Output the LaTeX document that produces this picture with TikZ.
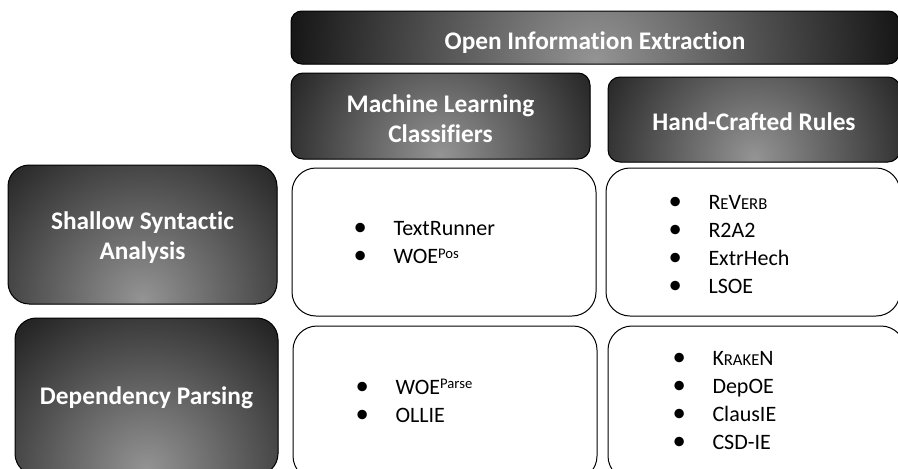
\documentclass[tikz,border=0pt]{standalone}
\usepackage{fontspec}
\setmainfont{Carlito}[Ligatures=NoCommon]
\newcommand{\fakesc}[1]{{\fontsize{12.5}{21}\selectfont #1}}
\newcommand{\supx}[1]{\raisebox{4pt}{\fontsize{11}{11}\selectfont #1}}
\newcommand{\itm}{\makebox[30pt][l]{\fontsize{20}{21}\selectfont\textbullet}}
\tikzset{every picture/.style={line width=0.75pt}}
\tikzset{
  darkbox/.style={draw=black, fill=black, inner sep=0pt,
    path picture={\shade[inner color=black!42, outer color=black] ([yshift=3pt]path picture bounding box.south) circle (#1);}},
  darkbox/.default=200pt,
  headtext/.style={text=white, align=center, inner sep=0pt, font=\fontsize{19}{22.5}\selectfont\bfseries},
  listbox/.style={draw=black, rounded corners=18pt, fill=white, inner sep=0pt},
  items/.style={anchor=west, align=left, inner sep=0pt, font=\fontsize{16.5}{21}\selectfont}
}

\begin{document}
\begin{tikzpicture}[x=0.75pt,y=0.75pt,yscale=-1,xscale=1]
        \useasboundingbox (0,0) rectangle (898,468);
        \clip (0,0) rectangle (898,468);

        %Shape: Top bar
        \node[darkbox=270pt, rounded corners=8pt, minimum width=456pt, minimum height=39.75pt] (oie) at (595,37.5) {};
        %Shape: Column headers
        \node[darkbox=170pt, rounded corners=9pt, minimum width=224.25pt, minimum height=64.5pt] (mlc) at (440.5,116) {};
        \node[darkbox=170pt, rounded corners=9pt, minimum width=219pt, minimum height=63.75pt] (hcr) at (754,119.5) {};
        %Shape: Row headers
        \node[darkbox=190pt, rounded corners=16pt, minimum width=201.75pt, minimum height=104.25pt] (ssa) at (142.5,234.5) {};
        \node[darkbox=190pt, rounded corners=16pt, minimum width=197.25pt, minimum height=117.75pt] (dep) at (146.5,396.5) {};

        % Text Node
        \node[headtext] (oie-t) at ([yshift=3.5pt]oie.center) {Open Information Extraction};
        % Text Node
        \node[headtext] (mlc-t) at ([yshift=2pt]mlc.center) {Machine Learning\\Classifiers};
        % Text Node
        \node[headtext] (hcr-t) at ([yshift=2pt]hcr.center) {Hand-Crafted Rules};
        % Text Node
        \node[headtext] (ssa-t) at ([yshift=2.5pt]ssa.center) {Shallow Syntactic\\Analysis};
        % Text Node
        \node[headtext] (dep-t) at ([yshift=1pt]dep.center) {Dependency Parsing};

        %Shape: Cells
        \node[listbox, minimum width=228pt, minimum height=111pt] (ssamlc) at (444,242) {};
        \node[listbox, minimum width=220.5pt, minimum height=111pt] (ssahcr) at (753,242) {};
        \node[listbox, minimum width=228pt, minimum height=115.5pt] (depmlc) at (445,403) {};
        \node[listbox, minimum width=222.75pt, minimum height=115.5pt] (dephcr) at (756.5,403) {};

        % Text Node
        \node[items] (l1) at (353,242.5) {\itm TextRunner\\\itm WOE\supx{Pos}};
        % Text Node
        \node[items] (l2) at (668,244.5) {\itm R\fakesc{E}V\fakesc{ERB}\\\itm R2A2\\\itm ExtrHech\\\itm LSOE};
        % Text Node
        \node[items] (l3) at (355,401) {\itm WOE\supx{Parse}\\\itm OLLIE};
        % Text Node
        \node[items] (l4) at (672,400.5) {\itm K\fakesc{RAKE}N\\\itm DepOE\\\itm ClausIE\\\itm CSD-IE};

\end{tikzpicture}
\end{document}
